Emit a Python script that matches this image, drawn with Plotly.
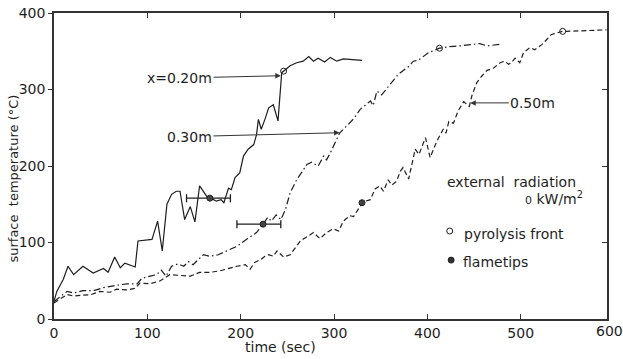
import plotly.graph_objects as go

# Surface temperature histories at three heights (time in s, temperature in deg C)
t_020 = [0, 3, 10, 15, 21, 31, 42, 53, 58, 65, 71, 76, 87, 90, 105, 111, 116, 121, 126, 131,
         135, 140, 146, 151, 156, 160, 165, 171, 174, 179, 182, 187, 190, 194, 199, 203, 208,
         214, 217, 219, 222, 226, 230, 235, 240, 244, 246, 253, 260, 267, 273, 278, 283, 290,
         296, 303, 310, 317, 330]
T_020 = [23, 36, 52, 69, 58, 69, 60, 66, 61, 81, 67, 73, 68, 102, 104, 128, 89, 150, 163, 167,
         167, 130, 147, 127, 174, 167, 158, 156, 154, 156, 152, 171, 169, 185, 191, 213, 222,
         228, 241, 261, 248, 261, 276, 280, 259, 322, 324, 331, 335, 337, 343, 337, 341, 336,
         342, 337, 340, 339, 338]

t_030 = [0, 5, 14, 21, 31, 42, 53, 67, 78, 89, 94, 103, 110, 115, 120, 126, 133, 139, 144, 149,
         160, 167, 176, 185, 196, 206, 217, 224, 229, 233, 238, 243, 248, 253, 260, 265, 271,
         276, 283, 289, 292, 296, 301, 306, 315, 322, 328, 339, 342, 346, 351, 358, 369, 380,
         385, 390, 401, 413, 424, 435, 449, 456, 464, 471, 478]
T_030 = [23, 28, 36, 34, 37, 37, 41, 44, 46, 46, 53, 56, 58, 64, 56, 69, 72, 69, 75, 71,
         84, 82, 84, 89, 95, 104, 113, 124, 133, 128, 136, 130, 143, 165, 182, 191, 202,
         205, 200, 213, 208, 217, 230, 243, 254, 263, 274, 285, 279, 298, 293, 304, 320, 330,
         337, 338, 348, 354, 356, 357, 359, 360, 357, 358, 359]

t_050 = [0, 6, 14, 21, 31, 40, 49, 60, 67, 78, 87, 92, 103, 114, 124, 135, 146, 156, 167, 178,
         189, 196, 205, 210, 215, 222, 226, 230, 235, 239, 246, 253, 264, 271, 278, 285, 292,
         299, 305, 310, 317, 321, 326, 331, 339, 344, 349, 353, 358, 362, 367, 371, 374, 380,
         387, 391, 398, 403, 410, 417, 420, 423, 428, 433, 439, 442, 445, 448, 453, 458, 464,
         471, 478, 483, 487, 490, 494, 499, 503, 510, 515, 523, 528, 533, 539, 545, 549, 564,
         578, 592]
T_050 = [21, 26, 32, 30, 31, 32, 36, 35, 39, 38, 40, 47, 46, 50, 58, 57, 56, 61, 61, 63,
         67, 69, 71, 65, 74, 78, 82, 84, 82, 89, 81, 84, 102, 108, 113, 105, 113,
         118, 115, 128, 135, 134, 143, 153, 156, 170, 174, 167, 182, 175, 180, 193, 198, 183,
         222, 215, 237, 211, 232, 248, 243, 258, 256, 272, 284, 281, 278, 293, 309, 317, 325,
         328, 335, 337, 333, 335, 341, 335, 348, 355, 352, 359, 365, 372, 374, 376, 376, 377,
         377, 378]

# Pyrolysis front arrival (open circles)
pyro_t = [246, 413, 545]
pyro_T = [324, 354, 376]

# Flame tip arrival with time spread (filled circles)
flame_t = [167, 224]
flame_T = [158, 124]
flame_err_minus = [25, 28]
flame_err_plus = [22, 19]
flame_t_single = [330]
flame_T_single = [152]

x_ticks = [0, 100, 200, 300, 400, 500]
y_ticks = [0, 100, 200, 300, 400]

INK = "#1e1e1e"
FONT = "DejaVu Sans"

fig = go.Figure()

fig.add_trace(go.Scatter(x=t_020, y=T_020, mode="lines",
                         line=dict(color=INK, width=1.2, dash="solid")))
fig.add_trace(go.Scatter(x=t_030, y=T_030, mode="lines",
                         line=dict(color=INK, width=1.2, dash="7px,3px,1.5px,3px")))
fig.add_trace(go.Scatter(x=t_050, y=T_050, mode="lines",
                         line=dict(color=INK, width=1.2, dash="5px,3px")))

fig.add_trace(go.Scatter(x=pyro_t, y=pyro_T, mode="markers",
                         marker=dict(symbol="circle-open", size=6, color=INK,
                                     line=dict(width=1, color=INK))))
fig.add_trace(go.Scatter(x=flame_t, y=flame_T, mode="markers",
                         marker=dict(symbol="circle", size=6, color="#444",
                                     line=dict(width=1, color=INK)),
                         error_x=dict(type="data", symmetric=False,
                                      array=flame_err_plus, arrayminus=flame_err_minus,
                                      color=INK, thickness=1.3, width=4)))
fig.add_trace(go.Scatter(x=flame_t_single, y=flame_T_single, mode="markers",
                         marker=dict(symbol="circle", size=6, color="#444",
                                     line=dict(width=1, color=INK))))

# right-hand axis, only for the inward tick marks on the frame
fig.add_trace(go.Scatter(x=[None], y=[None], yaxis="y2", showlegend=False))

annotations = []

# curve labels with arrows
for text, tip, tail in [("x=0.20m", (243, 318), (134.5, 315)),
                        ("0.30m", (306, 243.5), (145, 238.5)),
                        ("0.50m", (446, 282.5), (513, 282.5))]:
    annotations.append(dict(x=tip[0], y=tip[1], ax=tail[0], ay=tail[1],
                            xref="x", yref="y", axref="x", ayref="y",
                            text=text, showarrow=True, arrowhead=2, arrowsize=1.1,
                            arrowwidth=1, arrowcolor="#333",
                            font=dict(family=FONT, size=14, color=INK)))

# key block
annotations += [
    dict(x=490, y=179.5, xref="x", yref="y", text="external  radiation", showarrow=False,
         font=dict(family=FONT, size=14, color=INK)),
    dict(x=536, y=158, xref="x", yref="y",
         text="<span style='font-size:11px'>0</span> kW/m<sup>2</sup>", showarrow=False,
         font=dict(family=FONT, size=14, color=INK)),
    dict(x=437, y=111, xref="x", yref="y", text="pyrolysis front", showarrow=False,
         xanchor="left", font=dict(family=FONT, size=14, color=INK)),
    dict(x=436, y=74, xref="x", yref="y", text="flametips", showarrow=False,
         xanchor="left", font=dict(family=FONT, size=14, color=INK)),
]

# axis titles and the end label of the time axis
annotations += [
    dict(x=0.4087, y=-0.093, xref="paper", yref="paper", text="time (sec)",
         xanchor="center", yanchor="middle",
         showarrow=False, font=dict(family=FONT, size=14, color=INK)),
    dict(x=-0.075, y=0.4575, xref="paper", yref="paper", text="surface  temperature (°C)",
         xanchor="center", yanchor="middle",
         textangle=-90, showarrow=False, font=dict(family=FONT, size=13, color=INK)),
    dict(x=1.0045, y=0, xref="paper", yref="paper", text="600",
         xanchor="center", yanchor="top", yshift=-2,
         showarrow=False, font=dict(family=FONT, size=14, color=INK)),
]

# key symbols, sized in pixels around an anchor point
key_symbols = [
    dict(type="circle", xref="x", yref="y", xsizemode="pixel", ysizemode="pixel",
         xanchor=424, yanchor=115, x0=-3, x1=3, y0=-3, y1=3,
         line=dict(color=INK, width=1), fillcolor="rgba(0,0,0,0)"),
    dict(type="circle", xref="x", yref="y", xsizemode="pixel", ysizemode="pixel",
         xanchor=425.5, yanchor=77, x0=-3, x1=3, y0=-3, y1=3,
         line=dict(color=INK, width=1), fillcolor="#333"),
]

fig.update_layout(
    width=623, height=359, autosize=False,
    margin=dict(l=54, r=16, t=13, b=40, autoexpand=False),
    paper_bgcolor="white", plot_bgcolor="white",
    showlegend=False,
    font=dict(family=FONT, size=14, color=INK),
    annotations=annotations,
    shapes=key_symbols,
    xaxis=dict(range=[0, 592.5], tickvals=x_ticks, ticks="inside", ticklen=5, tickwidth=1.2,
               tickcolor="#333", showline=True, linecolor="#333", linewidth=1.5,
               mirror="ticks", showgrid=False, zeroline=False,
               tickfont=dict(family=FONT, size=14, color=INK)),
    yaxis=dict(range=[0, 400], tickvals=y_ticks, ticks="outside", ticklen=4, tickwidth=1.2,
               tickcolor="#333", showline=True, linecolor="#333", linewidth=1.5,
               mirror=True, showgrid=False, zeroline=False,
               tickfont=dict(family=FONT, size=14, color=INK)),
    yaxis2=dict(range=[0, 400], tickvals=y_ticks, ticks="inside", ticklen=5, tickwidth=1.2,
                tickcolor="#333", overlaying="y", side="right", anchor="x",
                showticklabels=False, showgrid=False, zeroline=False, showline=False),
)

fig.write_html("out.html")
